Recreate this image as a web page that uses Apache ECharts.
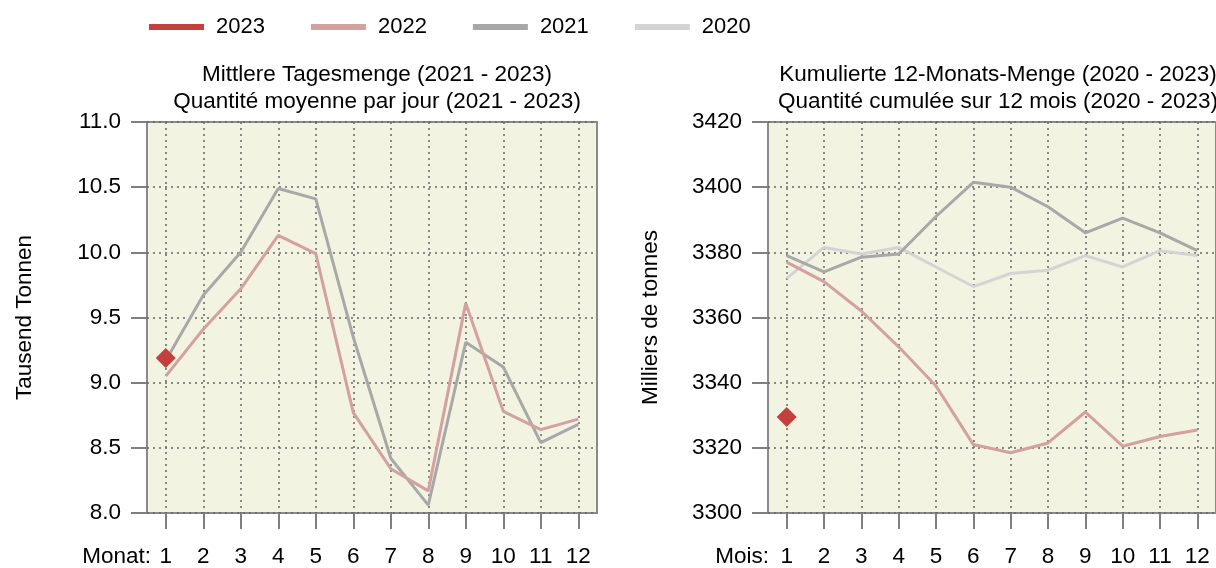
<!DOCTYPE html>
<html>
<head>
<meta charset="utf-8">
<script src="https://cdn.jsdelivr.net/npm/echarts@6/dist/echarts.min.js"></script>
<style>
html,body{margin:0;padding:0;background:#fff;}
#chart{width:1216px;height:568px;}
</style>
</head>
<body>
<div id="chart"></div>
<script>
const months = ['1','2','3','4','5','6','7','8','9','10','11','12'];
const seriesNames = ['2023','2022','2021','2020'];
const leftTicks = {min: 8.0, max: 11.0, interval: 0.5};
const rightTicks = {min: 3300, max: 3420, interval: 20};

// Mittlere Tagesmenge (Tausend Tonnen)
const daily2023 = [9.19, null, null, null, null, null, null, null, null, null, null, null];
const daily2022 = [9.05, 9.41, 9.72, 10.13, 9.99, 8.77, 8.34, 8.17, 9.61, 8.78, 8.64, 8.72];
const daily2021 = [9.17, 9.67, 10.00, 10.49, 10.41, 9.35, 8.42, 8.06, 9.31, 9.12, 8.54, 8.68];

// Kumulierte 12-Monats-Menge (Milliers de tonnes)
const cum2023 = [3329.5, null, null, null, null, null, null, null, null, null, null, null];
const cum2022 = [3377, 3371, 3362, 3351, 3339, 3321, 3318.5, 3321.5, 3331, 3320.5, 3323.5, 3325.5];
const cum2021 = [3379, 3374, 3378.5, 3379.5, 3391, 3401.5, 3400, 3394, 3386, 3390.5, 3386, 3380.5];
const cum2020 = [3372, 3381.5, 3379.5, 3381.5, 3375.5, 3369.5, 3373.5, 3374.5, 3379, 3375.5, 3380.5, 3379];

const colors = {'2023':'#C4403F','2022':'#D2A1A0','2021':'#A8A8A8','2020':'#D4D4D4'};
const FONT = 'Liberation Sans';
const fsTick = 22.5;
const fsTitle = 22.5;
const fsLegend = 22;
const fsName = 22.5;

function xAxisCfg(gridIndex, prefix, gap){
  return {
    type:'category', gridIndex, data: months, boundaryGap:true,
    axisLine:{show:false},
    axisTick:{show:true, alignWithLabel:true, length:16, lineStyle:{color:'#7f7f7f', width:2}},
    axisLabel:{color:'#000', fontSize:fsTick, fontFamily:FONT, margin:32},
    splitLine:{show:true, alignWithLabel:true, lineStyle:{type:[2,4], color:'#666', width:1.5}},
    name: prefix, nameLocation:'start', nameGap:gap,
    nameTextStyle:{color:'#000', fontSize:fsTick, fontFamily:FONT, verticalAlign:'top', padding:[32,0,0,0]}
  };
}
function yAxisCfg(gridIndex, t, name, gap, fmt){
  return {
    type:'value', gridIndex, min:t.min, max:t.max, interval:t.interval,
    axisLine:{show:false},
    axisTick:{show:true, length:16, lineStyle:{color:'#7f7f7f', width:2}},
    axisLabel:{color:'#000', fontSize:fsTick, fontFamily:FONT, margin:26, formatter:fmt},
    splitLine:{show:true, lineStyle:{type:[2,4], color:'#666', width:1.5}},
    name, nameLocation:'middle', nameGap:gap,
    nameTextStyle:{color:'#000', fontSize:fsName, fontFamily:FONT}
  };
}
function line(name, data, xi, yi){
  return {name, type:'line', xAxisIndex:xi, yAxisIndex:yi, data, symbol:'none',
    lineStyle:{color:colors[name], width:3}, itemStyle:{color:colors[name]}, z:3, animation:false};
}
function dot(name, data, xi, yi){
  return {name, type:'line', xAxisIndex:xi, yAxisIndex:yi, data, symbol:'diamond', symbolSize:20,
    showSymbol:true, lineStyle:{color:colors[name], width:0}, itemStyle:{color:colors[name]}, z:5, animation:false};
}

const chart = echarts.init(document.getElementById('chart'), null, {renderer:'canvas'});
chart.setOption({
  animation:false,
  backgroundColor:'#fff',
  textStyle:{fontFamily:FONT},
  title:[
    {text:'Mittlere Tagesmenge (2021 - 2023)\nQuantité moyenne par jour (2021 - 2023)', left:372, top:56, textAlign:'center',
     textStyle:{fontSize:fsTitle, fontWeight:'normal', color:'#000', fontFamily:FONT, lineHeight:27}},
    {text:'Kumulierte 12-Monats-Menge (2020 - 2023)\nQuantité cumulée sur 12 mois (2020 - 2023)', left:993, top:56, textAlign:'center',
     textStyle:{fontSize:fsTitle, fontWeight:'normal', color:'#000', fontFamily:FONT, lineHeight:27}}
  ],
  legend:{
    data: seriesNames.map(n=>({name:n, icon:'rect', itemStyle:{color:colors[n]}})),
    left:144, top:11, itemWidth:55, itemHeight:6, itemGap:46,
    textStyle:{fontSize:fsLegend, color:'#000', fontFamily:FONT, padding:[0,0,0,7]}
  },
  grid:[
    {left:147, top:122, width:450, height:391, show:true, backgroundColor:'#F3F3E2', borderColor:'#8a8a8a', borderWidth:2},
    {left:768, top:122, width:450, height:391, show:true, backgroundColor:'#F3F3E2', borderColor:'#8a8a8a', borderWidth:2}
  ],
  xAxis:[xAxisCfg(0,'Monat:',-4), xAxisCfg(1,'Mois:',-1)],
  yAxis:[
    yAxisCfg(0,leftTicks,'Tausend Tonnen',111, v=>v.toFixed(1)),
    yAxisCfg(1,rightTicks,'Milliers de tonnes',106, v=>String(v))
  ],
  series:[
    line('2021', daily2021, 0, 0),
    line('2022', daily2022, 0, 0),
    dot('2023', daily2023, 0, 0),
    line('2020', cum2020, 1, 1),
    line('2021', cum2021, 1, 1),
    line('2022', cum2022, 1, 1),
    dot('2023', cum2023, 1, 1)
  ]
});
</script>
</body>
</html>
